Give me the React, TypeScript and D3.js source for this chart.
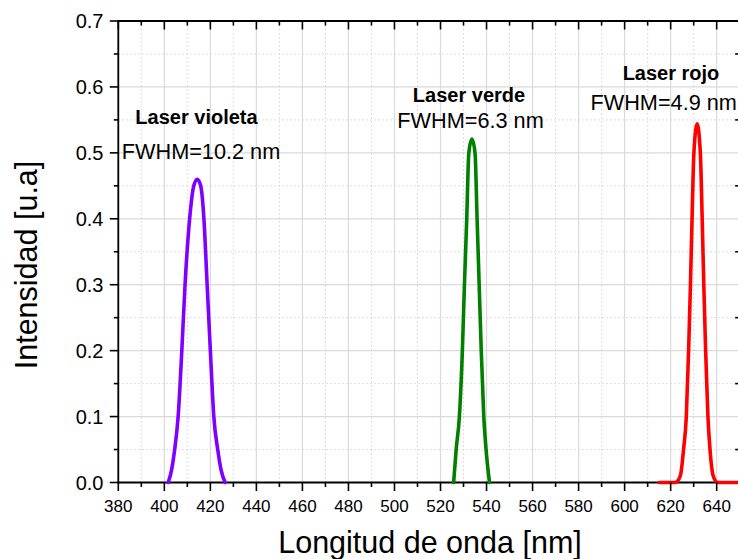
import React from "react";
import * as d3 from "d3";

// Emission spectra of three laser pointers: [wavelength (nm), intensity (a.u.)]
const violetSpectrum: [number, number][] = [
  [401.7, 0], [403.2, 0.02], [404.5, 0.05], [406.0, 0.1], [407.6, 0.2], [409.0, 0.3],
  [411.0, 0.4], [412.8, 0.45], [414.3, 0.46], [415.8, 0.45], [417.2, 0.4], [418.6, 0.3],
  [420.0, 0.2], [421.5, 0.1], [423.2, 0.05], [424.6, 0.02], [426.4, 0],
];
const greenSpectrum: [number, number][] = [
  [525.7, 0], [526.8, 0.05], [528.2, 0.1], [529.5, 0.2], [530.4, 0.3], [531.4, 0.4],
  [532.3, 0.5], [533.65, 0.521], [535.0, 0.5], [535.9, 0.4], [536.8, 0.3], [537.7, 0.2],
  [538.8, 0.1], [539.8, 0.05], [541.3, 0],
];
const redSpectrum: [number, number][] = [
  [615.0, 0], [622.0, 0], [624.2, 0.01], [625.6, 0.05], [626.8, 0.1], [627.8, 0.2],
  [628.6, 0.3], [629.3, 0.4], [630.1, 0.5], [631.5, 0.544], [632.9, 0.5], [633.7, 0.4],
  [634.4, 0.3], [635.2, 0.2], [636.2, 0.1], [637.1, 0.05], [638.5, 0.01], [640.4, 0], [650.0, 0],
];

const seriesNames = ["Laser violeta", "Laser verde", "Laser rojo"];
const fwhmLabels = ["FWHM=10.2 nm", "FWHM=6.3 nm", "FWHM=4.9 nm"];
const seriesColors = ["#8000ff", "#008000", "#ff0000"];

const xMajorTicks = [380, 400, 420, 440, 460, 480, 500, 520, 540, 560, 580, 600, 620, 640];
const xMinorTicks = [390, 410, 430, 450, 470, 490, 510, 530, 550, 570, 590, 610, 630];
const yMajorTicks = [0, 0.1, 0.2, 0.3, 0.4, 0.5, 0.6, 0.7];
const yMinorTicks = [0.05, 0.15, 0.25, 0.35, 0.45, 0.55, 0.65];

const xTitle = "Longitud de onda [nm]";
const yTitle = "Intensidad [u.a]";

const W = 738;
const H = 559;
const left = 118.3;
const right = 739.7;
const top = 21;
const bottom = 482.5;

const FONT = "Arial, 'Liberation Sans', sans-serif";

export default function App() {
  const x = d3.scaleLinear().domain([380, 650]).range([left, right]);
  const y = d3.scaleLinear().domain([0, 0.7]).range([bottom, top]);
  const line = d3
    .line<[number, number]>()
    .x((d) => x(d[0]))
    .y((d) => y(d[1]))
    .curve(d3.curveMonotoneX);

  const spectra = [violetSpectrum, greenSpectrum, redSpectrum];
  const fmtY = d3.format(".1f");

  // annotation placement: [name center x, name baseline, fwhm center x, fwhm baseline]
  const notes = [
    [196.5, 124, 201, 159],
    [469, 102, 470.5, 128],
    [671, 80, 663.7, 110],
  ];

  return (
    <svg
      width={W}
      height={H}
      style={{ position: "absolute", left: 0, top: 0, background: "#fff" }}
      fontFamily={FONT}
    >
      <rect width={W} height={H} fill="#fff" />
      <defs>
        <clipPath id="plot">
          <rect x={left} y={top - 5} width={right - left} height={bottom - top + 8} />
        </clipPath>
      </defs>

      {/* minor grid */}
      {xMinorTicks.map((t) => (
        <line key={"gxm" + t} x1={x(t)} x2={x(t)} y1={top} y2={bottom}
          stroke="#d4d4d4" strokeWidth={1} strokeDasharray="1.5,2.5" />
      ))}
      {yMinorTicks.map((t) => (
        <line key={"gym" + t} x1={left} x2={right} y1={y(t)} y2={y(t)}
          stroke="#d4d4d4" strokeWidth={1} strokeDasharray="1.5,2.5" />
      ))}
      {/* major grid */}
      {xMajorTicks.map((t) => (
        <line key={"gx" + t} x1={x(t)} x2={x(t)} y1={top} y2={bottom}
          stroke="#dadada" strokeWidth={1.2} />
      ))}
      {yMajorTicks.map((t) => (
        <line key={"gy" + t} x1={left} x2={right} y1={y(t)} y2={y(t)}
          stroke="#dadada" strokeWidth={1.2} />
      ))}

      {/* frame */}
      <g stroke="#000" strokeWidth={1.8}>
        <line x1={left} x2={left} y1={top} y2={bottom + 0.9} />
        <line x1={left - 0.9} x2={right} y1={bottom} y2={bottom} />
        <line x1={left - 0.9} x2={right} y1={top} y2={top} />
        <line x1={right} x2={right} y1={top} y2={bottom} />
      </g>

      {/* spectra */}
      <g clipPath="url(#plot)">
        {spectra.map((s, i) => (
          <path key={i} d={line(s) || ""} fill="none" stroke={seriesColors[i]}
            strokeWidth={3.6} strokeLinejoin="round" strokeLinecap="round" />
        ))}
      </g>

      {/* bottom & top ticks */}
      <g stroke="#000" strokeWidth={1.6}>
        {xMajorTicks.map((t) => (
          <g key={"tx" + t}>
            <line x1={x(t)} x2={x(t)} y1={bottom} y2={bottom + 8.5} />
            <line x1={x(t)} x2={x(t)} y1={top} y2={top + 8.5} />
          </g>
        ))}
        {xMinorTicks.map((t) => (
          <g key={"txm" + t}>
            <line x1={x(t)} x2={x(t)} y1={bottom} y2={bottom + 4.5} />
            <line x1={x(t)} x2={x(t)} y1={top} y2={top + 4.5} />
          </g>
        ))}
        {yMajorTicks.map((t) => (
          <line key={"ty" + t} x1={left - 8.5} x2={left} y1={y(t)} y2={y(t)} />
        ))}
        {yMinorTicks.map((t) => (
          <g key={"tym" + t}>
            <line x1={left - 4.5} x2={left} y1={y(t)} y2={y(t)} />
            <line x1={right - 4.5} x2={right} y1={y(t)} y2={y(t)} />
          </g>
        ))}
      </g>

      {/* tick labels */}
      {xMajorTicks.map((t) => (
        <text key={"lx" + t} x={x(t)} y={511.5} textAnchor="middle" fontSize={17} fill="#000">
          {t}
        </text>
      ))}
      {yMajorTicks.map((t) => (
        <text key={"ly" + t} x={103.5} y={y(t) + 7} textAnchor="end" fontSize={20} fill="#000">
          {fmtY(t)}
        </text>
      ))}

      {/* axis titles */}
      <text x={430} y={553.3} textAnchor="middle" fontSize={30.5} fill="#000">
        {xTitle}
      </text>
      <text
        transform={`translate(37.3,265) rotate(-90)`}
        textAnchor="middle"
        fontSize={30.5}
        fill="#000"
      >
        {yTitle}
      </text>

      {/* annotations */}
      {notes.map((n, i) => (
        <g key={"n" + i}>
          <text x={n[0]} y={n[1]} textAnchor="middle" fontSize={20} fontWeight="bold" fill="#000">
            {seriesNames[i]}
          </text>
          <text x={n[2]} y={n[3]} textAnchor="middle" fontSize={21.7} fill="#000">
            {fwhmLabels[i]}
          </text>
        </g>
      ))}
    </svg>
  );
}
